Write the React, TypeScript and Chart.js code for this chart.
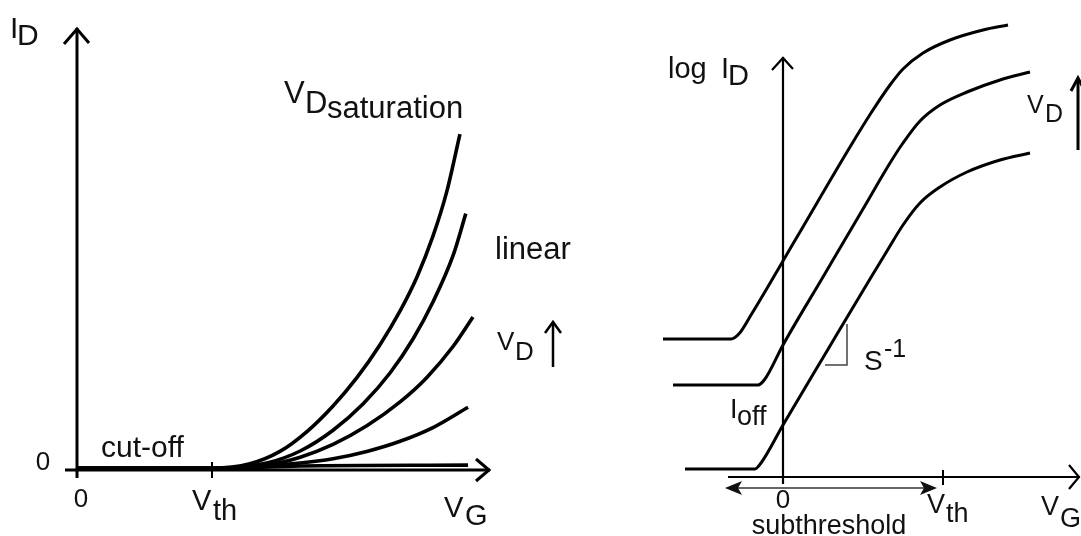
import React, { useEffect, useRef } from "react";
import { Chart, registerables } from "chart.js";

Chart.register(...registerables);

// ---------- Left panel: I_D vs V_G (linear scale), V_th = 3 units ----------
const LEFT_VTH = 3;
const leftCurve1X = [0, 3.0, 3.84, 4.51, 5.11, 5.69, 6.22, 6.73, 7.18, 7.56, 7.91, 8.22, 8.51];
const leftCurve1Y = [0.04, 0.04, 0.14, 0.42, 0.87, 1.45, 2.09, 2.83, 3.6, 4.38, 5.29, 6.31, 7.6];
const leftCurve2X = [0, 3.0, 4.22, 4.96, 5.69, 6.36, 6.96, 7.47, 7.91, 8.36, 8.64];
const leftCurve2Y = [0.04, 0.04, 0.16, 0.43, 0.9, 1.5, 2.2, 2.97, 3.8, 4.86, 5.8];
const leftCurve3X = [0, 3.0, 4.22, 4.96, 5.69, 6.44, 7.18, 7.78, 8.36, 8.8];
const leftCurve3Y = [0.04, 0.04, 0.11, 0.29, 0.58, 1.0, 1.54, 2.1, 2.8, 3.46];
const leftCurve4X = [0, 3.0, 4.96, 5.69, 6.44, 7.18, 7.91, 8.69];
const leftCurve4Y = [0.04, 0.04, 0.16, 0.255, 0.42, 0.65, 0.96, 1.42];
const leftCurve5X = [0, 3.0, 4.96, 8.69];
const leftCurve5Y = [0.04, 0.04, 0.09, 0.11];

// ---------- Right panel: log I_D vs V_G, V_th = 4 units ----------
const RIGHT_VTH = 4;
const rightCurveAX = [-3.0, -1.3, -1.1, -0.8, 0.35, 1.675, 2.2, 2.675, 3.0, 3.5, 4.175, 5.0, 5.625];
const rightCurveAY = [3.45, 3.45, 3.58, 4.05, 6.0, 8.25, 9.1, 9.8, 10.2, 10.6, 10.925, 11.175, 11.3];
const rightCurveBX = [-2.75, -0.625, -0.45, 0, 1.0, 2.0, 2.675, 3.0, 3.425, 3.925, 4.6, 5.425, 6.175];
const rightCurveBY = [2.3, 2.3, 2.45, 3.3, 5.0, 6.7, 7.85, 8.35, 8.9, 9.3, 9.625, 9.925, 10.125];
const rightCurveCX = [-2.45, -0.7, -0.55, 0, 1.1, 2.175, 2.6, 3.0, 3.425, 3.925, 4.6, 5.425, 6.175];
const rightCurveCY = [0.2, 0.2, 0.35, 1.3, 3.15, 4.95, 5.65, 6.3, 6.85, 7.25, 7.625, 7.925, 8.1];

const FONT = '"Liberation Sans", Arial, Helvetica, sans-serif';
const INK = "#000";
const TEXT = "#111";

type TextItem = { t: string; x: number; y: number; s: number; a?: CanvasTextAlign };

const leftTexts: TextItem[] = [
  { t: "I", x: 10, y: 38, s: 30 },
  { t: "D", x: 17, y: 45, s: 30 },
  { t: "0", x: 43, y: 470, s: 26, a: "center" },
  { t: "0", x: 81, y: 507, s: 26, a: "center" },
  { t: "V", x: 192, y: 510, s: 29 },
  { t: "th", x: 213, y: 520, s: 29 },
  { t: "V", x: 444, y: 517, s: 29 },
  { t: "G", x: 465, y: 525, s: 29 },
  { t: "cut-off", x: 101, y: 457, s: 30 },
  { t: "V", x: 284, y: 103, s: 31 },
  { t: "D", x: 305, y: 113, s: 31 },
  { t: "saturation", x: 327, y: 118, s: 31 },
  { t: "linear", x: 495, y: 259, s: 31 },
  { t: "V", x: 497, y: 350, s: 26 },
  { t: "D", x: 515, y: 360, s: 26 },
];

const rightTexts: TextItem[] = [
  { t: "log", x: 668, y: 78, s: 29 },
  { t: "I", x: 721, y: 78, s: 29 },
  { t: "D", x: 728, y: 85, s: 29 },
  { t: "0", x: 783, y: 508, s: 26, a: "center" },
  { t: "subthreshold", x: 829, y: 534, s: 27, a: "center" },
  { t: "V", x: 927, y: 513, s: 27 },
  { t: "th", x: 946, y: 522, s: 27 },
  { t: "V", x: 1041, y: 515, s: 27 },
  { t: "G", x: 1060, y: 527, s: 27 },
  { t: "S", x: 864, y: 370, s: 28 },
  { t: "-1", x: 884, y: 357, s: 25 },
  { t: "I", x: 730, y: 418, s: 27 },
  { t: "off", x: 737, y: 425, s: 27 },
  { t: "V", x: 1027, y: 113, s: 25 },
  { t: "D", x: 1045, y: 122, s: 25 },
];

function zip(xs: number[], ys: number[]) {
  return xs.map((x, i) => ({ x, y: ys[i] }));
}

function drawTexts(ctx: CanvasRenderingContext2D, items: TextItem[]) {
  ctx.save();
  ctx.fillStyle = TEXT;
  ctx.textBaseline = "alphabetic";
  for (const it of items) {
    ctx.font = `${it.s}px ${FONT}`;
    ctx.textAlign = it.a || "left";
    ctx.fillText(it.t, it.x, it.y);
  }
  ctx.restore();
}

function line(ctx: CanvasRenderingContext2D, x1: number, y1: number, x2: number, y2: number) {
  ctx.beginPath();
  ctx.moveTo(x1, y1);
  ctx.lineTo(x2, y2);
  ctx.stroke();
}

function chevron(ctx: CanvasRenderingContext2D, pts: number[][]) {
  ctx.beginPath();
  ctx.moveTo(pts[0][0], pts[0][1]);
  for (let i = 1; i < pts.length; i++) ctx.lineTo(pts[i][0], pts[i][1]);
  ctx.stroke();
}

function tri(ctx: CanvasRenderingContext2D, pts: number[][]) {
  ctx.beginPath();
  ctx.moveTo(pts[0][0], pts[0][1]);
  for (let i = 1; i < pts.length; i++) ctx.lineTo(pts[i][0], pts[i][1]);
  ctx.closePath();
  ctx.fill();
}

const leftDecor = {
  id: "leftDecor",
  afterDatasetsDraw(chart: any) {
    const ctx: CanvasRenderingContext2D = chart.ctx;
    const sx = chart.scales.x;
    const sy = chart.scales.y;
    const ox = sx.getPixelForValue(0);
    const oy = sy.getPixelForValue(0);
    const vth = sx.getPixelForValue(LEFT_VTH);
    const top = sy.getPixelForValue(sy.max);
    const tipX = 490;
    ctx.save();
    ctx.strokeStyle = INK;
    ctx.lineWidth = 3;
    ctx.lineCap = "butt";
    ctx.lineJoin = "miter";
    // y axis
    line(ctx, ox, oy + 8, ox, top);
    chevron(ctx, [[ox - 13, top + 16], [ox, top + 1], [ox + 12, top + 15]]);
    // x axis
    line(ctx, ox - 12, oy, tipX, oy);
    chevron(ctx, [[tipX - 14, oy - 11], [tipX - 1, oy], [tipX - 14, oy + 11]]);
    // V_th tick
    ctx.lineWidth = 2;
    line(ctx, vth, oy - 8, vth, oy + 8);
    // V_D arrow
    ctx.lineWidth = 2.5;
    line(ctx, 553, 367, 553, 323);
    chevron(ctx, [[545, 333], [553, 322], [561, 333]]);
    ctx.restore();
    drawTexts(ctx, leftTexts);
  },
};

const rightDecor = {
  id: "rightDecor",
  afterDatasetsDraw(chart: any) {
    const ctx: CanvasRenderingContext2D = chart.ctx;
    const sx = chart.scales.x;
    const sy = chart.scales.y;
    const ox = sx.getPixelForValue(0);
    const oy = sy.getPixelForValue(0);
    const vth = sx.getPixelForValue(RIGHT_VTH);
    const topY = 57;
    const tipX = 1080;
    ctx.save();
    ctx.strokeStyle = INK;
    ctx.fillStyle = INK;
    ctx.lineWidth = 2.2;
    // y axis
    line(ctx, ox, oy + 7, ox, topY);
    chevron(ctx, [[ox - 11, topY + 13], [ox, topY + 1], [ox + 10, topY + 12]]);
    // x axis
    line(ctx, 728, oy, tipX, oy);
    chevron(ctx, [[tipX - 11, oy - 12], [tipX - 1, oy], [tipX - 11, oy + 12]]);
    // V_th tick
    ctx.lineWidth = 2;
    line(ctx, vth, oy - 7, vth, oy + 8);
    // subthreshold double arrow
    ctx.strokeStyle = "#333";
    ctx.fillStyle = "#111";
    ctx.lineWidth = 1.5;
    const ay = oy + 11;
    line(ctx, 738, ay, 924, ay);
    tri(ctx, [[725, ay], [742, ay - 7], [738, ay], [742, ay + 7]]);
    tri(ctx, [[937, ay], [920, ay - 7], [924, ay], [920, ay + 7]]);
    // S^-1 bracket
    ctx.strokeStyle = "#444";
    ctx.lineWidth = 1.5;
    chevron(ctx, [[847, 324], [847, 365], [825, 365]]);
    // V_D arrow at right edge
    ctx.strokeStyle = INK;
    ctx.lineWidth = 3;
    line(ctx, 1078, 150, 1078, 79);
    chevron(ctx, [[1071, 91], [1078, 78], [1085, 91]]);
    ctx.restore();
    drawTexts(ctx, rightTexts);
  },
};

function curveDataset(xs: number[], ys: number[], width: number) {
  return {
    data: zip(xs, ys),
    borderColor: INK,
    borderWidth: width,
    pointRadius: 0,
    fill: false,
    clip: false as any,
    borderCapStyle: "butt" as const,
    borderJoinStyle: "round" as const,
    cubicInterpolationMode: "monotone" as const,
  };
}

function baseOptions(xmin: number, xmax: number, ymin: number, ymax: number, pad: any) {
  return {
    responsive: false,
    animation: false as const,
    devicePixelRatio: 1,
    events: [],
    layout: { padding: pad },
    plugins: { legend: { display: false }, tooltip: { enabled: false }, title: { display: false } },
    scales: {
      x: { type: "linear" as const, min: xmin, max: xmax, display: false },
      y: { type: "linear" as const, min: ymin, max: ymax, display: false },
    },
  };
}

export default function App() {
  const leftRef = useRef<HTMLCanvasElement | null>(null);
  const rightRef = useRef<HTMLCanvasElement | null>(null);

  useEffect(() => {
    const left = new Chart(leftRef.current as HTMLCanvasElement, {
      type: "line",
      data: {
        datasets: [
          curveDataset(leftCurve1X, leftCurve1Y, 3.6),
          curveDataset(leftCurve2X, leftCurve2Y, 3.6),
          curveDataset(leftCurve3X, leftCurve3Y, 3.6),
          curveDataset(leftCurve4X, leftCurve4Y, 3.6),
          curveDataset(leftCurve5X, leftCurve5Y, 3.6),
        ],
      },
      options: baseOptions(0, 10, 0, 10, { left: 77, right: 1081 - 527, top: 28, bottom: 66 }) as any,
      plugins: [leftDecor],
    });
    const right = new Chart(rightRef.current as HTMLCanvasElement, {
      type: "line",
      data: {
        datasets: [
          curveDataset(rightCurveAX, rightCurveAY, 3),
          curveDataset(rightCurveBX, rightCurveBY, 3),
          curveDataset(rightCurveCX, rightCurveCY, 3),
        ],
      },
      options: baseOptions(-3, 7.4, 0, 11.5, { left: 663, right: 2, top: 17, bottom: 59 }) as any,
      plugins: [rightDecor],
    });
    return () => {
      left.destroy();
      right.destroy();
    };
  }, []);

  const canvasStyle: React.CSSProperties = {
    position: "absolute",
    left: 0,
    top: 0,
    width: 1081,
    height: 536,
    display: "block",
  };

  return (
    <div style={{ position: "absolute", left: 0, top: 0, width: 1081, height: 536, background: "#fff" }}>
      <canvas ref={leftRef} width={1081} height={536} style={canvasStyle} />
      <canvas ref={rightRef} width={1081} height={536} style={canvasStyle} />
    </div>
  );
}
